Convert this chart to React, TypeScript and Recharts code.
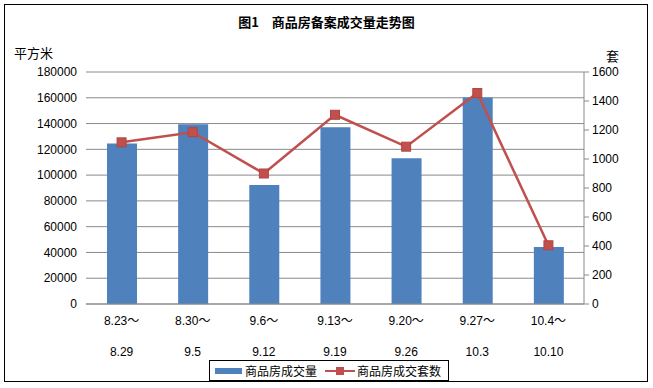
import { ComposedChart, Bar, Line, XAxis, YAxis, CartesianGrid } from "recharts";

// weekly ranges (two-line tick labels)
const weekStart = ["8.23～", "8.30～", "9.6～", "9.13～", "9.20～", "9.27～", "10.4～"];
const weekEnd = ["8.29", "9.5", "9.12", "9.19", "9.26", "10.3", "10.10"];
// 商品房成交量 (平方米)
const area = [124500, 139500, 92300, 137200, 113000, 160200, 44300];
// 商品房成交套数 (套)
const units = [1115, 1185, 900, 1305, 1085, 1455, 405];

const leftTicks = [0, 20000, 40000, 60000, 80000, 100000, 120000, 140000, 160000, 180000];
const rightTicks = [0, 200, 400, 600, 800, 1000, 1200, 1400, 1600];

const BLUE = "#4F81BD";
const RED = "#C0504D";
const FONT = '"Liberation Sans", "Noto Sans CJK SC", sans-serif';

const data = weekStart.map((w, i) => ({
  week: w,
  end: weekEnd[i],
  area: area[i],
  units: units[i],
}));

const WeekTick = (props: any) => {
  const { x, y, index } = props;
  return (
    <g>
      <text x={x} y={y + 21} textAnchor="middle" fontSize={12} fill="#000" fontFamily={FONT}>
        {weekStart[index]}
      </text>
      <text x={x} y={y + 52} textAnchor="middle" fontSize={12} fill="#000" fontFamily={FONT}>
        {weekEnd[index]}
      </text>
    </g>
  );
};

const SquareDot = (props: any) => {
  const { cx, cy, index } = props;
  if (cx == null || cy == null) return null;
  return <rect key={index} x={cx - 4.5} y={cy - 4.5} width={9} height={9} fill={RED} stroke="#B5443F" strokeWidth={1} />;
};

export default function App() {
  return (
    <div style={{ position: "absolute", left: 0, top: 0, width: 653, height: 388, background: "#fff", fontFamily: FONT }}>
      <div
        style={{
          position: "absolute",
          left: 4,
          top: 4,
          width: 644,
          height: 378,
          border: "1px solid #000",
          boxSizing: "border-box",
        }}
      />
      <div
        style={{
          position: "absolute",
          left: 0,
          top: 13,
          width: 653,
          textAlign: "center",
          fontSize: 13,
          fontWeight: "bold",
          lineHeight: "18px",
          fontFamily: '"Noto Sans CJK SC", sans-serif',
        }}
      >
        图1　商品房备案成交量走势图
      </div>
      <div style={{ position: "absolute", left: 14, top: 44, fontSize: 13, lineHeight: "18px", fontFamily: '"Noto Sans CJK SC", sans-serif' }}>
        平方米
      </div>
      <div style={{ position: "absolute", left: 606, top: 47, fontSize: 13, lineHeight: "18px", fontFamily: '"Noto Sans CJK SC", sans-serif' }}>
        套
      </div>

      <ComposedChart
        width={653}
        height={388}
        data={data}
        margin={{ top: 72, right: 0, bottom: 0, left: 0 }}
        style={{ position: "absolute", left: 0, top: 0 }}
      >
        <CartesianGrid yAxisId="left" vertical={false} stroke="#8a8a8a" />
        <XAxis
          dataKey="week"
          height={84}
          axisLine={{ stroke: "#8a8a8a" }}
          tickLine={false}
          tickSize={0}
          tickMargin={0}
          interval={0}
          tick={<WeekTick />}
        />
        <YAxis
          yAxisId="left"
          orientation="left"
          width={86}
          domain={[0, 180000]}
          ticks={leftTicks}
          axisLine={false}
          tickLine={false}
          tickSize={0}
          tickMargin={9}
          tick={{ fontSize: 12, fill: "#000", fontFamily: FONT }}
        />
        <YAxis
          yAxisId="right"
          orientation="right"
          width={69}
          domain={[0, 1600]}
          ticks={rightTicks}
          axisLine={{ stroke: "#8a8a8a" }}
          tickLine={{ stroke: "#8a8a8a" }}
          tickSize={5}
          tickMargin={3}
          tick={{ fontSize: 12, fill: "#000", fontFamily: FONT }}
        />
        <Bar yAxisId="left" dataKey="area" fill={BLUE} barSize={30} isAnimationActive={false} />
        <Line
          yAxisId="right"
          dataKey="units"
          type="linear"
          stroke={RED}
          strokeWidth={2.5}
          dot={<SquareDot />}
          activeDot={false}
          isAnimationActive={false}
        />
      </ComposedChart>

      <div
        style={{
          position: "absolute",
          left: 209,
          top: 360,
          width: 240,
          height: 21,
          border: "1px solid #000",
          boxSizing: "border-box",
          background: "#fff",
          display: "flex",
          alignItems: "center",
          fontSize: 12,
          fontFamily: '"Noto Sans CJK SC", sans-serif',
        }}
      >
        <span style={{ display: "inline-block", width: 27, height: 6, background: BLUE, marginLeft: 5, marginRight: 3 }} />
        <span>商品房成交量</span>
        <span style={{ position: "relative", display: "inline-block", width: 30, height: 10, marginLeft: 8, marginRight: 2 }}>
          <span style={{ position: "absolute", left: 0, top: 4, width: 30, height: 2.5, background: RED }} />
          <span style={{ position: "absolute", left: 11, top: 1, width: 8, height: 8, background: RED }} />
        </span>
        <span>商品房成交套数</span>
      </div>
    </div>
  );
}
